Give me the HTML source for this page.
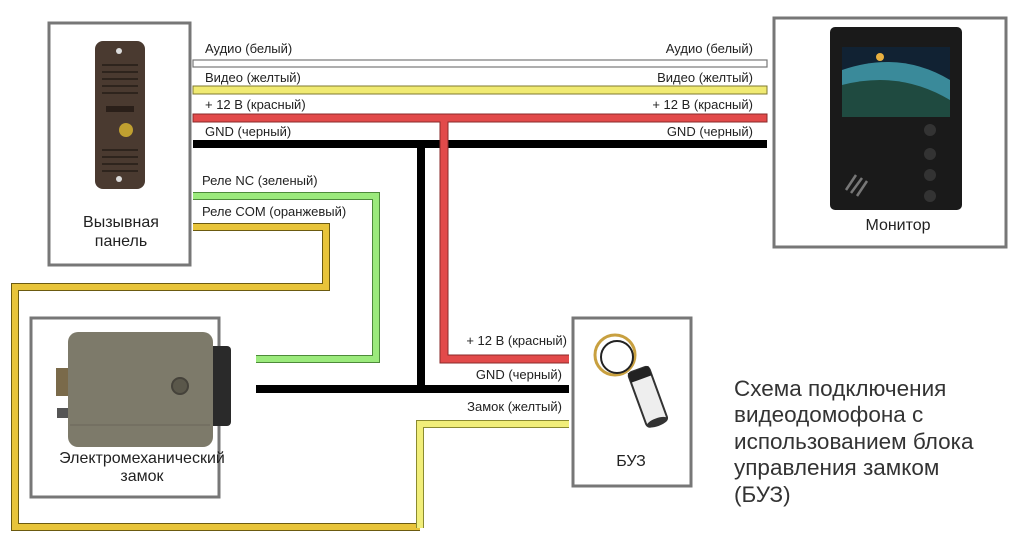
<!DOCTYPE html>
<html><head><meta charset="utf-8"><style>
html,body{margin:0;padding:0;background:#fff;}
svg{display:block;font-family:"Liberation Sans",sans-serif;}
</style></head><body>
<svg width="1024" height="553" viewBox="0 0 1024 553" xmlns="http://www.w3.org/2000/svg">
<rect width="1024" height="553" fill="#fff"/>
<g stroke-linejoin="miter" fill="none">
<path d="M193 227 H326 V287 H15 V527 H420" stroke="#6b5a10" stroke-width="8"/>
<path d="M193 227 H326 V287 H15 V527 H420" stroke="#e8c43a" stroke-width="6"/>
<path d="M420 528 V424 H569" stroke="#8a8a30" stroke-width="8"/>
<path d="M420 528 V424 H569" stroke="#f1ee7a" stroke-width="6"/>
<path d="M193 196 H376 V359 H256" stroke="#4d8a3a" stroke-width="8"/>
<path d="M193 196 H376 V359 H256" stroke="#9bea7c" stroke-width="6"/>
<rect x="193" y="60" width="574" height="7" fill="#fff" stroke="#777" stroke-width="1.2"/>
<rect x="193" y="86" width="574" height="8" fill="#f0ea72" stroke="#7f7a30" stroke-width="1"/>
<path d="M193 144 H767" stroke="#000" stroke-width="8"/>
<path d="M421 144 V389" stroke="#000" stroke-width="8"/>
<path d="M256 389 H569" stroke="#000" stroke-width="8"/>
<rect x="193" y="114" width="574" height="8" fill="#e24a4a" stroke="#8a2a2a" stroke-width="1"/>
<path d="M444 122 V359 H569" stroke="#8a2a2a" stroke-width="9"/>
<path d="M444 121 V359 H569" stroke="#e24a4a" stroke-width="7"/>
</g>
<g font-size="13" fill="#222">
<text x="205" y="53">Аудио (белый)</text>
<text x="205" y="82">Видео (желтый)</text>
<text x="205" y="109">+ 12 В (красный)</text>
<text x="205" y="136">GND (черный)</text>
<text x="202" y="185">Реле NC (зеленый)</text>
<text x="202" y="216">Реле COM (оранжевый)</text>
<g text-anchor="end">
<text x="753" y="53">Аудио (белый)</text>
<text x="753" y="82">Видео (желтый)</text>
<text x="753" y="109">+ 12 В (красный)</text>
<text x="753" y="136">GND (черный)</text>
<text x="567" y="345">+ 12 В (красный)</text>
<text x="562" y="379">GND (черный)</text>
<text x="562" y="411">Замок (желтый)</text>
</g>
</g>
<g fill="#fff" stroke="#777" stroke-width="3">
<rect x="49" y="23" width="141" height="242"/>
<rect x="774" y="18" width="232" height="229"/>
<rect x="31" y="318" width="188" height="179"/>
<rect x="573" y="318" width="118" height="168"/>
</g>
<rect x="95" y="41" width="50" height="148" rx="8" fill="#4a3a30"/>
<g stroke="#2e241d" stroke-width="2">
<line x1="102" y1="65" x2="138" y2="65"/><line x1="102" y1="72" x2="138" y2="72"/><line x1="102" y1="79" x2="138" y2="79"/><line x1="102" y1="86" x2="138" y2="86"/><line x1="102" y1="93" x2="138" y2="93"/>
<line x1="102" y1="150" x2="138" y2="150"/><line x1="102" y1="157" x2="138" y2="157"/><line x1="102" y1="164" x2="138" y2="164"/><line x1="102" y1="171" x2="138" y2="171"/>
</g>
<rect x="106" y="106" width="28" height="6" fill="#2a1f19"/>
<circle cx="126" cy="130" r="7" fill="#c0a030"/>
<circle cx="119" cy="51" r="3" fill="#ddd"/><circle cx="119" cy="179" r="3" fill="#ddd"/>
<rect x="830" y="27" width="132" height="183" rx="5" fill="#1a1a1a"/>
<rect x="842" y="47" width="108" height="70" fill="#123"/>
<path d="M842 70 Q900 50 950 80 L950 117 L842 117 Z" fill="#3a8a9a"/>
<path d="M842 85 Q900 70 950 100 L950 117 L842 117 Z" fill="#1f4a40"/>
<circle cx="880" cy="57" r="4" fill="#e8b040"/>
<g fill="#333"><circle cx="930" cy="130" r="6"/><circle cx="930" cy="154" r="6"/><circle cx="930" cy="175" r="6"/><circle cx="930" cy="196" r="6"/></g>
<g stroke="#777" stroke-width="2.5"><line x1="846" y1="190" x2="856" y2="175"/><line x1="851" y1="193" x2="862" y2="178"/><line x1="857" y1="196" x2="867" y2="181"/></g>
<rect x="193" y="346" width="38" height="80" rx="4" fill="#2a2a2a"/>
<rect x="56" y="368" width="20" height="28" fill="#7a6a4a"/>
<rect x="57" y="408" width="14" height="10" fill="#555"/>
<rect x="68" y="332" width="145" height="115" rx="10" fill="#7d7a6a"/>
<line x1="70" y1="425" x2="210" y2="425" stroke="#6a675a" stroke-width="1"/>
<circle cx="180" cy="386" r="8" fill="#5a574a" stroke="#45423a" stroke-width="2"/>
<ellipse cx="615" cy="355" rx="20" ry="20" fill="none" stroke="#c8a040" stroke-width="3"/>
<ellipse cx="617" cy="357" rx="16" ry="16" fill="none" stroke="#222" stroke-width="2"/>
<g transform="rotate(-20 648 400)">
<rect x="638" y="368" width="22" height="58" rx="4" fill="#eee" stroke="#333" stroke-width="2"/>
<rect x="638" y="368" width="22" height="10" fill="#222"/>
<ellipse cx="649" cy="424" rx="11" ry="4" fill="#333"/>
</g>
<g font-size="16" fill="#222" text-anchor="middle">
<text x="121" y="227">Вызывная</text>
<text x="121" y="246">панель</text>
<text x="898" y="230">Монитор</text>
<text x="142" y="463">Электромеханический</text>
<text x="142" y="481">замок</text>
<text x="631" y="466">БУЗ</text>
</g>
<g font-size="22.5" fill="#333">
<text x="734" y="396">Схема подключения</text>
<text x="734" y="422">видеодомофона с</text>
<text x="734" y="449">использованием блока</text>
<text x="734" y="475">управления замком</text>
<text x="734" y="502">(БУЗ)</text>
</g>
</svg>
</body></html>
